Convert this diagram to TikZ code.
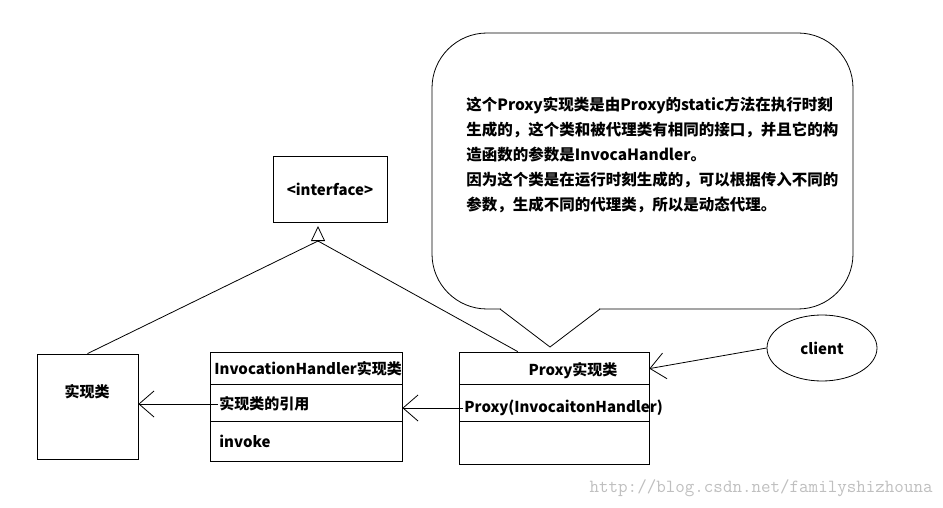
\documentclass[tikz,border=0pt]{standalone}
\usepackage{fontspec}
\setmainfont{Noto Sans CJK SC}
\usetikzlibrary{arrows.meta,shapes.geometric,calc}
\begin{document}
\begin{tikzpicture}[x=1pt,y=-1pt,
  line width=0.8pt,
  font=\fontsize{15}{18}\selectfont\bfseries,
  box/.style={draw,rectangle,inner sep=0pt},
  txt/.style={inner sep=1pt},
  dep/.style={-{Straight Barb[length=15pt,width=26pt,line width=0.8pt]}},
  inherit/.style={-{Triangle[open,length=15pt,width=14pt,line width=0.8pt]}},
  note/.style={align=left,inner sep=0pt,font=\fontsize{15.5}{25}\selectfont\bfseries},
  wm/.style={text=black!25,inner sep=0pt,font=\ttfamily\fontsize{18.5}{20}\selectfont}]
\useasboundingbox (0,0) rectangle (943,508);
\fill[white] (0,0) rectangle (943,508);

% callout bubble
\draw[rounded corners=55pt] (432,33) rectangle (853,309);
\fill[white] (500.6,305) rectangle (599.4,313);
\draw (500,309) -- (550,347) -- (600,309);
\node[note,anchor=north west] (noteText) at (466,97)
 {这个Proxy实现类是由Proxy的static方法在执行时刻\\
  生成的，这个类和被代理类有相同的接口，并且它的构\\
  造函数的参数是InvocaHandler。\\
  因为这个类是在运行时刻生成的，可以根据传入不同的\\
  参数，生成不同的代理类，所以是动态代理。};

% boxes
\node[box,minimum width=114pt,minimum height=66pt] (iface) at (330,189) {<interface>};
\node[box,minimum width=101pt,minimum height=105pt] (impl) at (87.5,406.5) {};
\node[txt] (implLbl) at (87,392) {实现类};

\node[box,minimum width=192pt,minimum height=109pt] (handler) at (306,406.5) {};
\draw (210,384) -- (403,384);
\draw (210,421) -- (403,421);
\node[txt,anchor=west] (hTitle) at (213,369) {InvocationHandler实现类};
\node[txt,anchor=west] (hRef) at (218,404) {实现类的引用};
\node[txt,anchor=west] (hInv) at (218,441) {invoke};

\node[box,minimum width=190pt,minimum height=112pt] (proxy) at (554,408) {};
\draw (459,384) -- (650,384);
\draw (459,421) -- (650,421);
\node[txt] (pTitle) at (573,371) {Proxy实现类};
\node[txt,anchor=west] (pCtor) at (463,408) {Proxy(InvocaitonHandler)};

\node[draw,ellipse,minimum width=110pt,minimum height=66pt,inner sep=0pt] (client) at (822,348) {client};

% inheritance
\coordinate (junc) at (318,241);
\coordinate (ifTip) at (318,226);
\coordinate (proxyTop) at ($(proxy.north west)!0.31!(proxy.north east)$);
\draw (impl.north) -- (junc) -- (proxyTop);
\draw[inherit] (junc) -- (ifTip);

% dependencies
\draw[dep] (hRef.west) -- (hRef.west -| impl.east);
\draw[dep] (pCtor.west) -- (pCtor.west -| handler.east);
\coordinate (proxyR) at ($(proxy.north east)+(0,17)$);
\draw[dep] (client.west) -- (proxyR);

% watermark
\node[wm,anchor=east] (wmark) at (933,488) {http://blog.csdn.net/familyshizhouna};
\end{tikzpicture}
\end{document}
